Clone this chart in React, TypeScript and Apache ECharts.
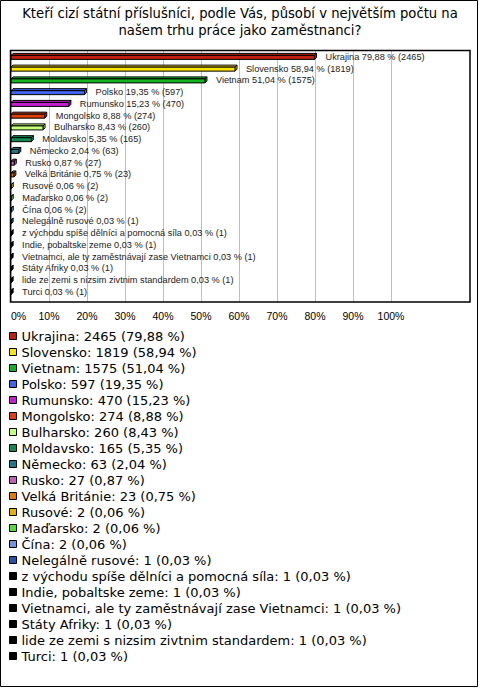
import React, { useEffect, useRef } from "react";
import * as echarts from "echarts";

const titleText = "Kteří cizí státní příslušníci, podle Vás, působí v největším počtu na\nnašem trhu práce jako zaměstnanci?";

const categories = [
  "Ukrajina", "Slovensko", "Vietnam", "Polsko", "Rumunsko", "Mongolsko", "Bulharsko",
  "Moldavsko", "Německo", "Rusko", "Velká Británie", "Rusové", "Maďarsko", "Čína",
  "Nelegálně rusové", "z východu spíše dělníci a pomocná síla", "Indie, pobaltske zeme",
  "Vietnamci, ale ty zaměstnávají zase Vietnamci", "Státy Afriky",
  "lide ze zemi s nizsim zivtnim standardem", "Turci",
];
const counts = [2465, 1819, 1575, 597, 470, 274, 260, 165, 63, 27, 23, 2, 2, 2, 1, 1, 1, 1, 1, 1, 1];
const percents = [79.88, 58.94, 51.04, 19.35, 15.23, 8.88, 8.43, 5.35, 2.04, 0.87, 0.75, 0.06, 0.06, 0.06, 0.03, 0.03, 0.03, 0.03, 0.03, 0.03, 0.03];
const colors = [
  "#c02010", "#ffe400", "#14b41e", "#4064f0", "#c41ed0", "#e04008", "#c4ff78",
  "#108a50", "#1a7a8c", "#c060b8", "#e47808", "#e8b000", "#4ee030", "#6c94e0",
  "#2850b4", "#000000", "#000000", "#000000", "#000000", "#000000", "#000000",
];
const xTicks = [0, 10, 20, 30, 40, 50, 60, 70, 80, 90, 100];

const fmt = (v: number) => v.toFixed(2).replace(".", ",");

export default function App() {
  const ref = useRef<HTMLDivElement>(null);
  useEffect(() => {
    document.body.style.margin = "0";
    const chart = echarts.init(ref.current!, null, { renderer: "svg" });
    const FONT = "'Liberation Sans', Arial, sans-serif";
    const WIDE = "'DejaVu Sans', Verdana, sans-serif";

    const renderItem = (params: any, api: any) => {
      const v = api.value(0);
      const idx = api.value(1);
      const p0 = api.coord([0, idx]);
      const p1 = api.coord([v, idx]);
      const x0 = p0[0];
      const x1 = p1[0];
      const yc = p0[1];
      const h = 4;
      const d = 2;
      const yt = yc - 1.5;
      const yb = yt + h;
      const fill = api.visual("color");
      const i = params.seriesIndex;
      const stroke = { stroke: "#000", lineWidth: 1 };
      return {
        type: "group",
        children: [
          { type: "polygon", shape: { points: [[x0, yt], [x0 + d, yt - d], [x1 + d, yt - d], [x1, yt]] }, style: { fill, ...stroke } },
          { type: "polygon", shape: { points: [[x1, yt], [x1 + d, yt - d], [x1 + d, yb - d], [x1, yb]] }, style: { fill, ...stroke } },
          { type: "rect", shape: { x: x0, y: yt, width: Math.max(x1 - x0, 0.01), height: h }, style: { fill, ...stroke } },
          {
            type: "text",
            x: x1 + 11,
            y: yc,
            style: {
              text: `${categories[i]} ${fmt(percents[i])} % (${counts[i]})`,
              fill: "#222",
              font: `9.2px ${FONT}`,
              verticalAlign: "middle",
              align: "left",
            },
          },
        ],
      };
    };

    const series = categories.map((name, i) => ({
      type: "custom",
      name,
      renderItem,
      itemStyle: { color: colors[i] },
      data: [[percents[i], i]],
      clip: false,
    }));

    chart.setOption({
      animation: false,
      title: {
        text: titleText,
        left: "center",
        top: 5,
        padding: 0,
        textStyle: { fontSize: 13.2, fontWeight: "normal", color: "#000", fontFamily: WIDE, lineHeight: 17 },
      },
      grid: { left: 11, right: 89, top: 51, height: 251 },
      xAxis: {
        type: "value",
        min: 0,
        max: 100,
        interval: 10,
        axisLine: { show: false },
        axisTick: { show: false },
        splitLine: { show: true, lineStyle: { color: "#c0c0c0", width: 1 } },
        axisLabel: {
          formatter: (v: number) => (xTicks.includes(v) ? `${v}%` : ""),
          fontSize: 10.5,
          color: "#000",
          fontFamily: FONT,
          margin: 8,
          alignMinLabel: "left",
        },
      },
      yAxis: {
        type: "value",
        inverse: true,
        min: -0.5,
        max: 20.85,
        show: false,
        splitLine: { show: false },
      },
      legend: {
        show: true,
        orient: "vertical",
        left: 9,
        top: 328,
        padding: 0,
        itemWidth: 7,
        itemHeight: 7,
        itemGap: 0,
        icon: "rect",
        selectedMode: false,
        itemStyle: { borderColor: "#000", borderWidth: 1 },
        textStyle: { fontSize: 13, color: "#000", fontFamily: WIDE, lineHeight: 16 },
        formatter: (name: string) => {
          const i = categories.indexOf(name);
          return `${name}: ${counts[i]} (${fmt(percents[i])} %)`;
        },
        data: categories,
      },
      graphic: [
        { type: "rect", shape: { x: 0.5, y: 0.5, width: 477, height: 686 }, style: { fill: "none", stroke: "#000", lineWidth: 1 }, silent: true },
        { type: "rect", shape: { x: 10.5, y: 50.5, width: 459.5, height: 251.5 }, style: { fill: "none", stroke: "#000", lineWidth: 1.5 }, silent: true, z: 100 },
      ],
      series,
    });
    return () => chart.dispose();
  }, []);
  return <div ref={ref} style={{ width: 480, height: 688 }} />;
}
